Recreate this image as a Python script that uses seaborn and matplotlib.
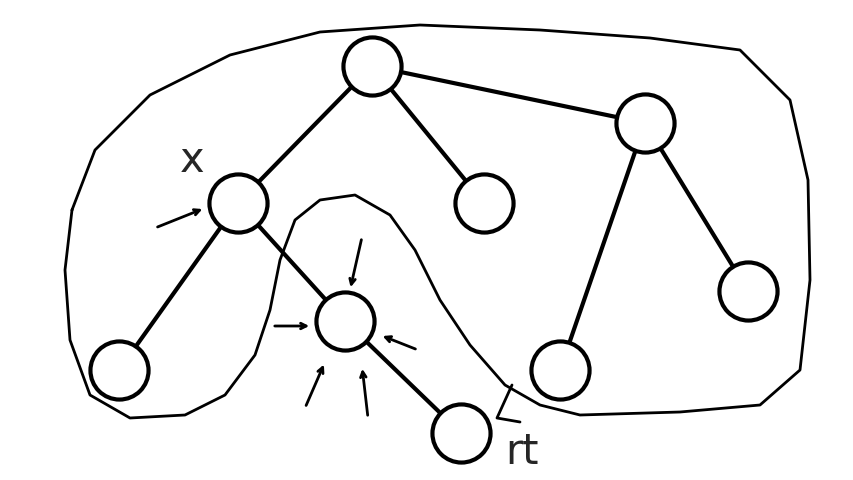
import numpy as np
import pandas as pd
import matplotlib
matplotlib.use("Agg")
import matplotlib.pyplot as plt
import seaborn as sns

# node positions (pixel frame of the sketch)
node_names = ["A", "B", "C", "D", "E", "F", "G", "H", "I"]
node_x = [372, 645, 238, 484, 748, 345, 119, 560, 461]
node_y = [66, 123, 203, 203, 291, 321, 370, 370, 433]
edges = [("A", "B"), ("A", "C"), ("A", "D"), ("B", "H"), ("B", "E"),
         ("C", "G"), ("C", "F"), ("F", "I")]

# hand-drawn outline
blob_x = [72, 95, 150, 230, 320, 420, 540, 650, 740, 790, 808, 810, 800, 760,
          680, 580, 540, 505, 470, 440, 415, 390, 355, 320, 295, 280, 270, 255,
          225, 185, 130, 90, 70, 65, 72]
blob_y = [210, 150, 95, 55, 32, 25, 30, 38, 50, 100, 180, 280, 370, 405,
          412, 415, 405, 385, 345, 300, 250, 215, 195, 200, 220, 260, 310, 355,
          395, 415, 418, 395, 340, 270, 210]

# small arrows: (x0, y0, x1, y1)
arrow_x0 = [155, 272, 362, 418, 305, 368]
arrow_y0 = [228, 326, 237, 350, 408, 418]
arrow_x1 = [205, 312, 350, 380, 325, 362]
arrow_y1 = [208, 326, 290, 335, 362, 366]

sns.set_style("white")
fig = plt.figure(figsize=(8.54, 4.8), dpi=100)
ax = fig.add_axes([0, 0, 1, 1])
ax.set_xlim(0, 854)
ax.set_ylim(480, 0)
ax.axis("off")

ax.plot(blob_x, blob_y, color="black", lw=2)

pos = dict(zip(node_names, zip(node_x, node_y)))
for a, b in edges:
    ax.plot([pos[a][0], pos[b][0]], [pos[a][1], pos[b][1]], color="black", lw=3, zorder=2)

nodes = pd.DataFrame({"x": node_x, "y": node_y})
sns.scatterplot(data=nodes, x="x", y="y", ax=ax, s=1750, color="white",
                edgecolor="black", linewidth=3, zorder=3)
ax.set_xlim(0, 854)
ax.set_ylim(480, 0)

for x0, y0, x1, y1 in zip(arrow_x0, arrow_y0, arrow_x1, arrow_y1):
    ax.annotate("", xy=(x1, y1), xytext=(x0, y0),
                arrowprops=dict(arrowstyle="->", color="black", lw=2))

# check-mark arrow near rt
ax.plot([512, 497, 520], [385, 418, 422], color="black", lw=2)

ax.text(192, 160, "x", fontsize=30, ha="center", va="center")
ax.text(522, 452, "rt", fontsize=30, ha="center", va="center")

fig.savefig("out.png", dpi=100)
